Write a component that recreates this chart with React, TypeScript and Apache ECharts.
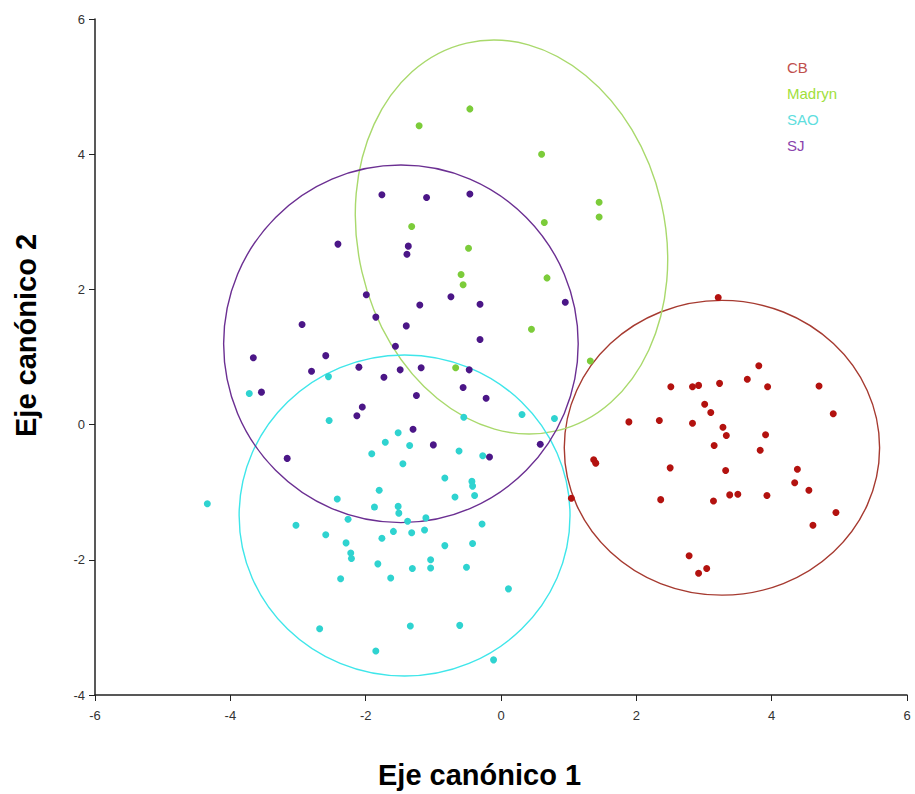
import React, { useEffect, useRef } from "react";
import * as echarts from "echarts";

// Canonical scores per group: [eje 1, eje 2]
const cbPoints: number[][] = [
  [3.21, 1.88], [3.81, 0.87], [3.64, 0.67], [2.51, 0.56], [2.83, 0.56], [2.92, 0.58],
  [3.23, 0.61], [3.94, 0.56], [4.7, 0.57], [3.01, 0.3], [3.1, 0.18], [4.91, 0.16],
  [1.89, 0.04], [2.34, 0.06], [2.83, 0.02], [3.28, -0.04], [3.33, -0.16], [3.91, -0.15],
  [3.15, -0.31], [3.83, -0.38], [1.37, -0.52], [1.4, -0.57], [2.5, -0.64], [3.32, -0.68],
  [4.38, -0.66], [4.34, -0.86], [4.55, -0.97], [3.38, -1.04], [3.5, -1.03], [3.93, -1.05],
  [1.04, -1.09], [2.36, -1.11], [3.14, -1.13], [4.95, -1.3], [4.61, -1.49], [2.78, -1.94],
  [3.04, -2.13], [2.92, -2.2],
];

const madrynPoints: number[][] = [
  [-0.46, 4.67], [-1.21, 4.42], [0.6, 4.0], [1.45, 3.29], [1.45, 3.07], [0.64, 2.99],
  [-1.32, 2.93], [-0.48, 2.61], [-0.59, 2.22], [-0.56, 2.07], [0.68, 2.17], [0.45, 1.41],
  [-0.67, 0.84], [1.32, 0.94],
];

const saoPoints: number[][] = [
  [-2.55, 0.71], [-3.72, 0.46], [-2.54, 0.06], [-0.55, 0.11], [0.31, 0.15], [0.79, 0.09],
  [-1.52, -0.12], [-1.71, -0.26], [-1.35, -0.31], [-1.91, -0.43], [-0.62, -0.39], [-0.27, -0.46],
  [-1.45, -0.58], [-0.83, -0.79], [-0.43, -0.84], [-0.42, -0.91], [-1.8, -0.97], [-0.68, -1.07],
  [-0.39, -1.05], [-4.34, -1.17], [-2.42, -1.1], [-1.87, -1.22], [-1.52, -1.21], [-1.51, -1.31],
  [-2.26, -1.4], [-1.38, -1.43], [-1.11, -1.38], [-3.03, -1.49], [-0.28, -1.47], [-2.59, -1.63],
  [-1.59, -1.58], [-1.32, -1.6], [-1.13, -1.56], [-1.76, -1.68], [-2.29, -1.75], [-0.83, -1.79],
  [-0.42, -1.76], [-2.22, -1.9], [-2.21, -1.98], [-1.82, -2.06], [-1.04, -2.0], [-1.04, -2.12],
  [-1.31, -2.13], [-0.51, -2.11], [-2.37, -2.28], [-1.63, -2.27], [0.11, -2.43], [-2.68, -3.02],
  [-1.34, -2.98], [-0.61, -2.97], [-1.85, -3.35], [-0.11, -3.48],
];

const sjPoints: number[][] = [
  [-1.76, 3.4], [-1.1, 3.36], [-0.46, 3.41], [-2.41, 2.67], [-1.37, 2.64], [-1.39, 2.52],
  [-1.99, 1.92], [-0.74, 1.89], [-1.2, 1.77], [-0.31, 1.78], [-2.94, 1.48], [-1.85, 1.59],
  [-1.4, 1.46], [-0.31, 1.26], [-1.56, 1.16], [-3.66, 0.99], [-2.59, 1.02], [-2.8, 0.79],
  [-2.1, 0.85], [-1.49, 0.81], [-1.18, 0.84], [-0.47, 0.81], [-1.73, 0.7], [-3.54, 0.48],
  [-0.56, 0.55], [-1.25, 0.43], [-0.22, 0.39], [-2.05, 0.26], [-2.13, 0.13], [-1.3, -0.07],
  [-1.0, -0.3], [0.58, -0.29], [0.95, 1.81], [-3.16, -0.5], [-0.17, -0.48],
];

// Confidence ellipses: [centre x, centre y, semi-axis x, semi-axis y, rotation (deg)]
const cbEllipse = [3.265, -0.343, 2.33, 2.18, 0];
const madrynEllipse = [0.155, 2.775, 2.27, 2.945, 13];
const saoEllipse = [-1.425, -1.345, 2.445, 2.375, 0];
const sjEllipse = [-1.479, 1.195, 2.62, 2.645, 0];

const groupNames = ["CB", "Madryn", "SAO", "SJ"];
const xTicks = [-6, -4, -2, 0, 2, 4, 6];
const yTicks = [-4, -2, 0, 2, 4, 6];

const groups = [
  { name: groupNames[0], points: cbPoints, ellipse: cbEllipse, dot: "#b3120f", line: "#a63a30", legend: "#c0504d" },
  { name: groupNames[1], points: madrynPoints, ellipse: madrynEllipse, dot: "#7ccc3a", line: "#a9d96c", legend: "#9fe03c" },
  { name: groupNames[2], points: saoPoints, ellipse: saoEllipse, dot: "#2fd3d0", line: "#3fe6ea", legend: "#5fdede" },
  { name: groupNames[3], points: sjPoints, ellipse: sjEllipse, dot: "#4b1687", line: "#6b2f92", legend: "#8a44ad" },
];

const FONT = "'Liberation Sans', Arial, sans-serif";

export default function App() {
  const ref = useRef<HTMLDivElement>(null);

  useEffect(() => {
    if (!ref.current) return;
    const chart = echarts.init(ref.current, undefined, { renderer: "svg" });

    const series: any[] = [];
    groups.forEach((g) => {
      series.push({
        type: "custom",
        name: g.name,
        coordinateSystem: "cartesian2d",
        silent: true,
        clip: false,
        z: 1,
        data: [g.ellipse],
        renderItem: (_params: any, api: any) => {
          const c = api.coord([api.value(0), api.value(1)]);
          const s = api.size([api.value(2), api.value(3)]);
          return {
            type: "ellipse",
            x: c[0],
            y: c[1],
            rotation: (api.value(4) * Math.PI) / 180,
            shape: { cx: 0, cy: 0, rx: s[0], ry: s[1] },
            style: { fill: "none", stroke: g.line, lineWidth: 1.4 },
          };
        },
      });
      series.push({
        type: "scatter",
        name: g.name,
        symbol: "circle",
        symbolSize: 7,
        z: 2,
        itemStyle: { color: g.dot, opacity: 1 },
        data: g.points,
      });
    });

    chart.setOption({
      animation: false,
      backgroundColor: "#ffffff",
      grid: { left: 95, right: 8, top: 19, bottom: 99, containLabel: false },
      legend: {
        orient: "vertical",
        left: 777,
        top: 55,
        icon: "none",
        itemWidth: 0,
        itemHeight: 14,
        itemGap: 11,
        selectedMode: false,
        textStyle: { fontSize: 15, fontFamily: FONT },
        data: groups.map((g) => ({ name: g.name, textStyle: { color: g.legend } })),
      },
      xAxis: {
        type: "value",
        min: xTicks[0],
        max: xTicks[xTicks.length - 1],
        interval: 2,
        axisLine: { show: true, onZero: false, lineStyle: { color: "#222", width: 1.5 } },
        axisTick: { show: true, inside: false, length: 6, lineStyle: { color: "#222" } },
        axisLabel: { fontSize: 13, color: "#333", fontFamily: FONT, margin: 14 },
        splitLine: { show: false },
      },
      yAxis: {
        type: "value",
        min: yTicks[0],
        max: yTicks[yTicks.length - 1],
        interval: 2,
        axisLine: { show: true, onZero: false, lineStyle: { color: "#222", width: 1.5 } },
        axisTick: { show: true, inside: false, length: 6, lineStyle: { color: "#222" } },
        axisLabel: { fontSize: 13, color: "#333", fontFamily: FONT, margin: 10 },
        splitLine: { show: false },
      },
      graphic: [
        {
          type: "text",
          left: 378,
          top: 760,
          style: {
            text: "Eje canónico 1",
            font: `bold 29px ${FONT}`,
            fill: "#000",
          },
        },
        {
          type: "text",
          x: 11,
          y: 437,
          rotation: Math.PI / 2,
          style: {
            text: "Eje canónico 2",
            font: `bold 29px ${FONT}`,
            fill: "#000",
          },
        },
      ],
      series,
    });

    return () => chart.dispose();
  }, []);

  return (
    <div
      ref={ref}
      style={{ position: "absolute", left: 0, top: 0, width: 915, height: 794 }}
    />
  );
}
